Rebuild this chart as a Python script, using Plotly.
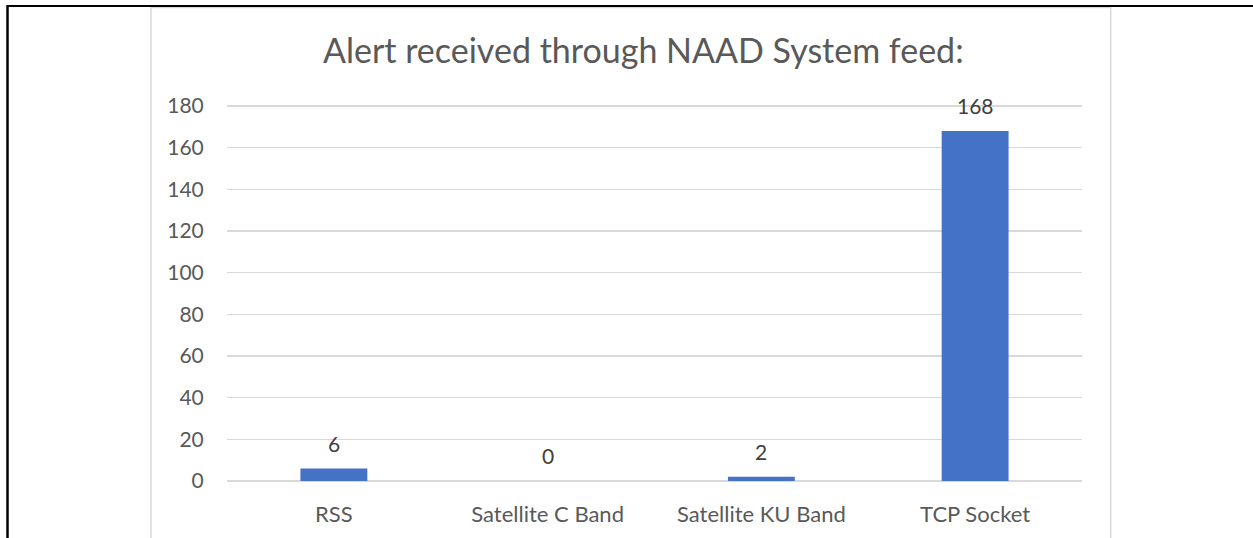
import plotly.graph_objects as go

categories = ["RSS", "Satellite C Band", "Satellite KU Band", "TCP Socket"]
values = [6, 0, 2, 168]
y_ticks = [0, 20, 40, 60, 80, 100, 120, 140, 160, 180]
title_text = "Alert received through NAAD System feed:"

W, H = 1253, 538
FONT = "Lato"

def px_x(x):
    return x / W

def px_y(y):
    return 1 - y / H

fig = go.Figure()
fig.add_trace(go.Bar(
    x=categories, y=values,
    marker=dict(color="#4472C4", line=dict(width=0)),
    hoverinfo="skip",
))

annotations = []
for c, v in zip(categories, values):
    annotations.append(dict(
        x=c, y=v, xref="x", yref="y", text=str(v), showarrow=False,
        yanchor="middle", yshift=25,
        font=dict(family=FONT, size=21, color="#404040"),
    ))
annotations.append(dict(
    x=px_x(643), y=px_y(50), xref="paper", yref="paper", text=title_text,
    showarrow=False, xanchor="center", yanchor="middle",
    font=dict(family=FONT, size=34, color="#595959"),
))

shapes = [
    # chart area border (light gray)
    dict(type="rect", xref="paper", yref="paper", x0=px_x(151), x1=px_x(1110.7),
         y0=px_y(560), y1=px_y(7.5), line=dict(color="#d9d9d9", width=1.5),
         fillcolor="rgba(0,0,0,0)", layer="below"),
    # table border lines (black)
    dict(type="line", xref="paper", yref="paper", x0=px_x(7), x1=px_x(1253),
         y0=px_y(6), y1=px_y(6), line=dict(color="black", width=2)),
    dict(type="line", xref="paper", yref="paper", x0=px_x(7.5), x1=px_x(7.5),
         y0=px_y(5), y1=px_y(560), line=dict(color="black", width=2.5)),
]

plot_top = 481 - 375 * 181 / 180
fig.update_layout(
    width=W, height=H,
    margin=dict(l=0, r=0, t=0, b=0),
    paper_bgcolor="white", plot_bgcolor="white",
    showlegend=False,
    bargap=0.687,
    annotations=annotations,
    shapes=shapes,
    xaxis=dict(
        domain=[px_x(227), px_x(1082)],
        showgrid=False, showline=False, zeroline=False,
        ticks="outside", ticklen=14, tickcolor="rgba(0,0,0,0)",
        tickfont=dict(family=FONT, size=22, color="#595959"),
        automargin=False,
    ),
    yaxis=dict(
        domain=[px_y(481), px_y(plot_top)],
        range=[0, 181],
        tickvals=y_ticks,
        showgrid=True, gridcolor="#d9d9d9", gridwidth=1.5,
        zeroline=True, zerolinecolor="#d9d9d9", zerolinewidth=1.5,
        showline=False,
        ticks="outside", ticklen=18, tickcolor="rgba(0,0,0,0)",
        tickfont=dict(family=FONT, size=21, color="#595959"),
        automargin=False,
    ),
)

fig.write_html(
    "out.html",
    config={"displayModeBar": False, "staticPlot": True},
    post_script="document.body.style.margin='0';document.body.style.overflow='hidden';",
)
